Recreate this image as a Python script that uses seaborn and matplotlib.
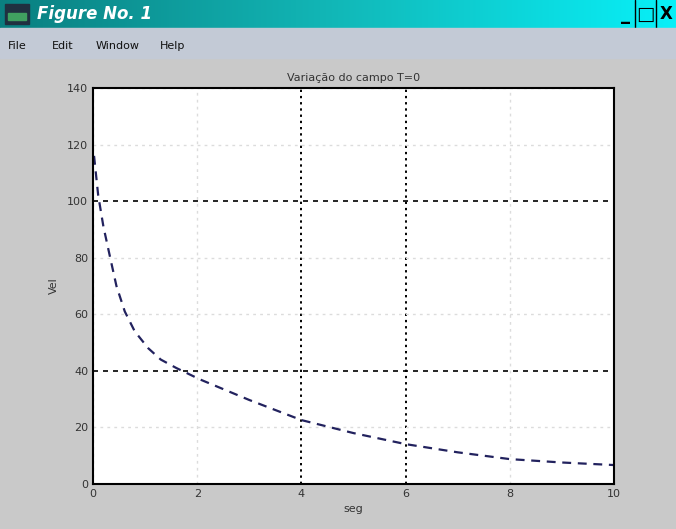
import matplotlib
matplotlib.use('Agg')
import matplotlib.pyplot as plt
import seaborn as sns
import numpy as np
from matplotlib.patches import Rectangle

# values
t = [0.02, 0.1, 0.2, 0.33, 0.45, 0.61, 0.8, 1.06, 1.3, 1.6, 2.05, 3.0, 4.0, 5.0, 6.0, 7.0, 8.0, 9.0, 10.0]
v = [116, 102, 91, 80, 70, 61, 54, 48, 44, 41, 37, 29.7, 22.6, 18.0, 14.1, 11.2, 8.8, 7.6, 6.7]
x_ticks = [0, 2, 4, 6, 8, 10]
y_ticks = [0, 20, 40, 60, 80, 100, 120, 140]
dark_x = [4, 6]
dark_y = [40, 100]

W, H = 676, 529
sns.set_style('white')
plt.rcParams['font.family'] = ['DejaVu Sans']

fig = plt.figure(figsize=(W / 100, H / 100), dpi=100)
fig.patch.set_facecolor('#c9c9c9')

# --- window chrome: title bar + menu bar ---
tb = fig.add_axes([0, 1 - 28 / H, 1, 28 / H])
grad = np.linspace(0, 1, 256).reshape(1, -1)
cmap = matplotlib.colors.LinearSegmentedColormap.from_list('tb', ['#0a7f80', '#12b8b8', '#08f0f8'])
tb.imshow(grad, aspect='auto', cmap=cmap, extent=[0, 1, 0, 1])
tb.set_axis_off()
tb.add_patch(Rectangle((0.008, 0.15), 0.035, 0.7, color='#203040'))
tb.add_patch(Rectangle((0.012, 0.3), 0.027, 0.25, color='#40a060'))
tb.text(0.055, 0.5, 'Figure No. 1', color='white', fontsize=12, fontweight='bold',
        style='italic', va='center', ha='left')
tb.text(0.925, 0.45, '_', color='black', fontsize=13, fontweight='bold', va='center', ha='center')
tb.text(0.955, 0.5, '\u25a1', color='black', fontsize=14, va='center', ha='center')
tb.text(0.985, 0.5, 'X', color='black', fontsize=12, fontweight='bold', va='center', ha='center')
tb.axvline(0.94, color='black', lw=1)
tb.axvline(0.97, color='black', lw=1)

fig.patches.append(Rectangle((0, 1 - 58 / H), 1, 30 / H, transform=fig.transFigure,
                             color='#c3cad6', zorder=0))
for label, px in [('File', 8), ('Edit', 52), ('Window', 96), ('Help', 160)]:
    fig.text(px / W, 1 - 46 / H, label, fontsize=8, va='center', ha='left', color='#111111')

# --- plot ---
ax = fig.add_axes([93 / W, (H - 484) / H, 521 / W, 396 / H])
ax.set_facecolor('white')
sns.lineplot(x=t, y=v, ax=ax, color='#22225e', linewidth=1.6, dashes=False)
ax.lines[0].set_linestyle((0, (4, 3)))

ax.set_xlim(0, 10)
ax.set_ylim(0, 140)
ax.set_xticks(x_ticks)
ax.set_yticks(y_ticks)
ax.tick_params(labelsize=8, colors='#333333', length=3, direction='in')

ax.grid(True, color='#dcdcdc', linestyle=(0, (2, 3)), linewidth=1)
for tick, gl in zip(x_ticks, ax.get_xgridlines()):
    if tick in dark_x:
        gl.set_color('black')
        gl.set_linestyle((0, (1.2, 2)))
        gl.set_linewidth(1.4)
for tick, gl in zip(y_ticks, ax.get_ygridlines()):
    if tick in dark_y:
        gl.set_color('black')
        gl.set_linestyle((0, (3, 3)))
        gl.set_linewidth(1.2)

for s in ax.spines.values():
    s.set_visible(True)
    s.set_color('black')
    s.set_linewidth(1.5)

ax.set_title('Variação do campo T=0', fontsize=8, color='#333333', pad=5)
ax.set_xlabel('seg', fontsize=8, color='#333333', labelpad=4)
ax.set_ylabel('Vel', fontsize=8, color='#333333', labelpad=6)

fig.savefig('out.png', dpi=100, facecolor=fig.get_facecolor())
